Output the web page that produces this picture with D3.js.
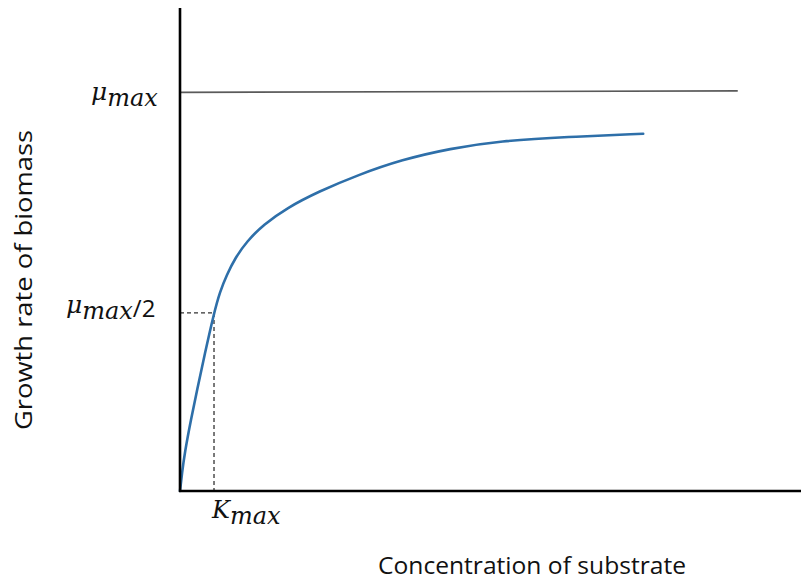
<!DOCTYPE html>
<html><head><meta charset="utf-8">
<script src="https://cdn.jsdelivr.net/npm/d3@7"></script>
<style>html,body{margin:0;padding:0;background:#fff;}svg{display:block;}</style>
</head><body>
<script>
// Substrate concentration (in units of K) and growth rate (fraction of mu_max)
const substrate = [0, 0.06, 0.137, 0.324, 0.52, 0.72, 1.0, 1.176, 1.374, 1.618, 1.962, 2.45, 3.14, 4.07, 5.24, 6.52, 7.94, 9.41, 11.38, 13.62];
const growth    = [0, 0.045, 0.095, 0.18, 0.26, 0.34, 0.446, 0.4995, 0.541, 0.583, 0.625, 0.667, 0.709, 0.750, 0.792, 0.830, 0.858, 0.877, 0.887, 0.895];
const muMax = 1.0;
const kPoint = [1.0, 0.446];
const muMaxEnd = 16.4;
const xTitle = "Concentration of substrate";
const yTitle = "Growth rate of biomass";

const W = 801, H = 582;
const svg = d3.select("body").append("svg").attr("width", W).attr("height", H);

const x = d3.scaleLinear().domain([0, 18.26]).range([180, 801]);
const y = d3.scaleLinear().domain([0, 1.21]).range([491, 8]);

// mu_max horizontal line
svg.append("line")
  .attr("x1", x(0)).attr("x2", x(muMaxEnd))
  .attr("y1", y(muMax) + 0.5).attr("y2", y(muMax) - 1)
  .attr("stroke", "#5a5a5a").attr("stroke-width", 1.6);

// dashed guides
svg.append("line")
  .attr("x1", x(0)).attr("x2", x(kPoint[0]))
  .attr("y1", y(kPoint[1])).attr("y2", y(kPoint[1]))
  .attr("stroke", "#333").attr("stroke-width", 1.2).attr("stroke-dasharray", "4,3");
svg.append("line")
  .attr("x1", x(kPoint[0])).attr("x2", x(kPoint[0]))
  .attr("y1", y(kPoint[1])).attr("y2", y(0))
  .attr("stroke", "#222").attr("stroke-width", 1.2).attr("stroke-dasharray", "4,3");

// curve
const pts = substrate.map((s, i) => [s, growth[i]]);
svg.append("path")
  .datum(pts)
  .attr("fill", "none")
  .attr("stroke", "#2e6fa9")
  .attr("stroke-width", 2.6)
  .attr("stroke-linecap", "round")
  .attr("d", d3.line().x(d => x(d[0])).y(d => y(d[1])).curve(d3.curveBasis));

// axes
svg.append("line").attr("x1", x(0)).attr("x2", x(0)).attr("y1", y(1.21)).attr("y2", y(0) + 1)
  .attr("stroke", "#000").attr("stroke-width", 2.6);
svg.append("line").attr("x1", x(0) - 1).attr("x2", x(18.26)).attr("y1", y(0)).attr("y2", y(0))
  .attr("stroke", "#000").attr("stroke-width", 2.6);

// math labels
const serif = "'DejaVu Serif', 'Liberation Serif', serif";
function mathLabel(xp, yp, suffix) {
  const t = svg.append("text").attr("x", xp).attr("y", yp)
    .attr("font-family", serif).attr("fill", "#111");
  t.append("tspan").attr("font-style", "italic").attr("font-size", 25).text("μ");
  t.append("tspan").attr("font-style", "italic").attr("font-size", 24).attr("dy", 6).text("max");
  if (suffix) t.append("tspan").attr("font-family", "'Open Sans', sans-serif").attr("font-size", 24).attr("dy", -2).text(suffix);
  return t;
}
mathLabel(91, y(muMax) + 8);
mathLabel(66, y(kPoint[1]) + 0, "/2");

const k = svg.append("text").attr("x", x(kPoint[0]) - 2).attr("y", 518)
  .attr("font-family", serif).attr("font-style", "italic").attr("fill", "#111");
k.append("tspan").attr("font-size", 24).text("K");
k.append("tspan").attr("font-size", 24).attr("dy", 6).text("max");

// titles
svg.append("text").attr("x", 532).attr("y", 574).attr("text-anchor", "middle")
  .attr("font-family", "'Open Sans', 'Noto Sans', sans-serif").attr("font-size", 24).attr("fill", "#111")
  .attr("textLength", 308).attr("lengthAdjust", "spacingAndGlyphs")
  .text(xTitle);
svg.append("text").attr("transform", "translate(32,280) rotate(-90)").attr("text-anchor", "middle")
  .attr("font-family", "'Open Sans', 'Noto Sans', sans-serif").attr("font-size", 24).attr("fill", "#111")
  .attr("textLength", 300).attr("lengthAdjust", "spacingAndGlyphs")
  .text(yTitle);
</script>
</body></html>
